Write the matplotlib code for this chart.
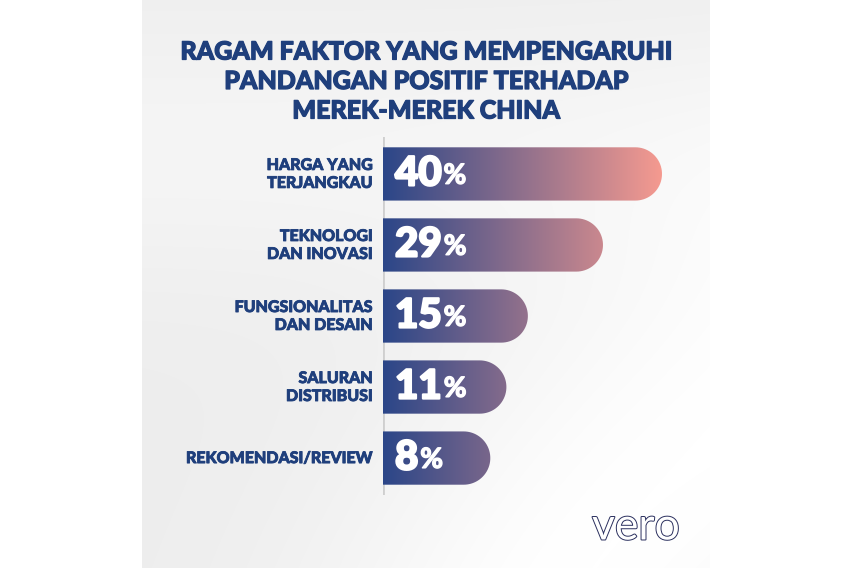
import numpy as np
import matplotlib
matplotlib.use("Agg")
import matplotlib.pyplot as plt
from matplotlib.path import Path
from matplotlib.patches import PathPatch
from matplotlib.transforms import offset_copy
import matplotlib.patheffects as pe
from matplotlib.colors import LinearSegmentedColormap

# data
categories = ["HARGA YANG\nTERJANGKAU", "TEKNOLOGI\nDAN INOVASI", "FUNGSIONALITAS\nDAN DESAIN",
              "SALURAN\nDISTRIBUSI", "REKOMENDASI/REVIEW"]
values = [40, 29, 15, 11, 8]
title_lines = ["RAGAM FAKTOR YANG MEMPENGARUHI", "PANDANGAN POSITIF TERHADAP", "MEREK-MEREK CHINA"]

NAVY = "#1f3f7c"
FONT = ["Lato", "DejaVu Sans"]
W, H = 852, 568


def heavy(color, lw):
    # fake an extra-bold weight by stroking the glyphs in their own colour
    return [pe.Stroke(linewidth=lw, foreground=color), pe.Normal()]


fig = plt.figure(figsize=(W / 100, H / 100), dpi=100)
fig.patch.set_facecolor("white")

# background panel (light gray with a soft white sweep)
bg = fig.add_axes([142 / W, 0, 568 / W, 1])
yy, xx = np.mgrid[0:568, 0:568]
d = np.hypot(xx - 900, yy - 900) / 900.0
band = np.exp(-((d - 0.62) / 0.25) ** 2)
shade = 0.93 + 0.07 * band
shade = np.clip(shade + 0.03 * np.exp(-((yy - 150) / 140.0) ** 2), 0, 1)
bg.imshow(np.dstack([shade] * 3), aspect="auto", extent=(0, 568, 568, 0))
bg.set_axis_off()

# title
for i, line in enumerate(title_lines):
    fig.text(426 / W, 1 - (52 + i * 29.5) / H, line, ha="center", va="center",
             fontsize=18, fontweight="black", color=NAVY, family=FONT,
             path_effects=heavy(NAVY, 0.9))

# chart axes
left_px, right_px, top_px, bot_px = 383, 710, 137, 495
ax = fig.add_axes([left_px / W, 1 - bot_px / H, (right_px - left_px) / W, (bot_px - top_px) / H])
ax.patch.set_alpha(0)
pad = 12  # bars start a little left of zero so the labels fit in short bars
px_per_unit = 279 / (max(values) + pad)
ax.set_xlim(-pad, -pad + (right_px - left_px) / px_per_unit)
ax.set_ylim(len(values) - 0.48, -0.52)
ax.set_axis_off()

ax.axvline(-pad, color="#cfcfcf", lw=2, zorder=1)

cmap = LinearSegmentedColormap.from_list("bar", ["#2b4688", "#f59a90"])
grad = np.linspace(0, 1, 256).reshape(1, -1)
bar_h = 0.75
y_per_px = (len(values) + 0.04) / (bot_px - top_px)
num_tr = offset_copy(ax.transData, fig=fig, x=12, y=0, units="dots")
for i, v in enumerate(values):
    ry = bar_h / 2
    rx = (ry / y_per_px) / px_per_unit
    x0, x1 = -pad, v
    t = np.linspace(-np.pi / 2, np.pi / 2, 40)
    arc = np.column_stack([x1 - rx + rx * np.cos(t), i + ry * np.sin(t)])
    verts = np.vstack([[x0, i - ry], arc, [x0, i + ry], [x0, i - ry]])
    patch = PathPatch(Path(verts), facecolor="none", edgecolor="none")
    ax.add_patch(patch)
    im = ax.imshow(grad, cmap=cmap, aspect="auto", extent=(-pad, max(values), i + ry, i - ry), zorder=2)
    im.set_clip_path(patch)

    num = ax.text(-pad, i, str(v), transform=num_tr, ha="left", va="center", fontsize=29,
                  fontweight="black", color="white", family=FONT, zorder=3,
                  path_effects=heavy("white", 1.6))
    ax.annotate("%", xy=(1, 0.1), xycoords=num, xytext=(2, 0), textcoords="offset pixels",
                ha="left", va="bottom", fontsize=20, fontweight="bold", color="white",
                family=FONT, zorder=3, path_effects=heavy("white", 1.0))
    ax.annotate(categories[i], xy=(-pad, i), xytext=(-10, 0), textcoords="offset pixels",
                ha="right", va="center", fontsize=11.5, fontweight="black", color=NAVY,
                family=FONT, linespacing=1.15, annotation_clip=False,
                path_effects=heavy(NAVY, 0.6))

# logo
fig.text(636 / W, 1 - 527 / H, "vero", ha="center", va="center", fontsize=32, color="white",
         family=FONT, path_effects=[pe.Stroke(linewidth=1.4, foreground="#2a2f5e"), pe.Normal()])

fig.savefig("out.png", dpi=100)
